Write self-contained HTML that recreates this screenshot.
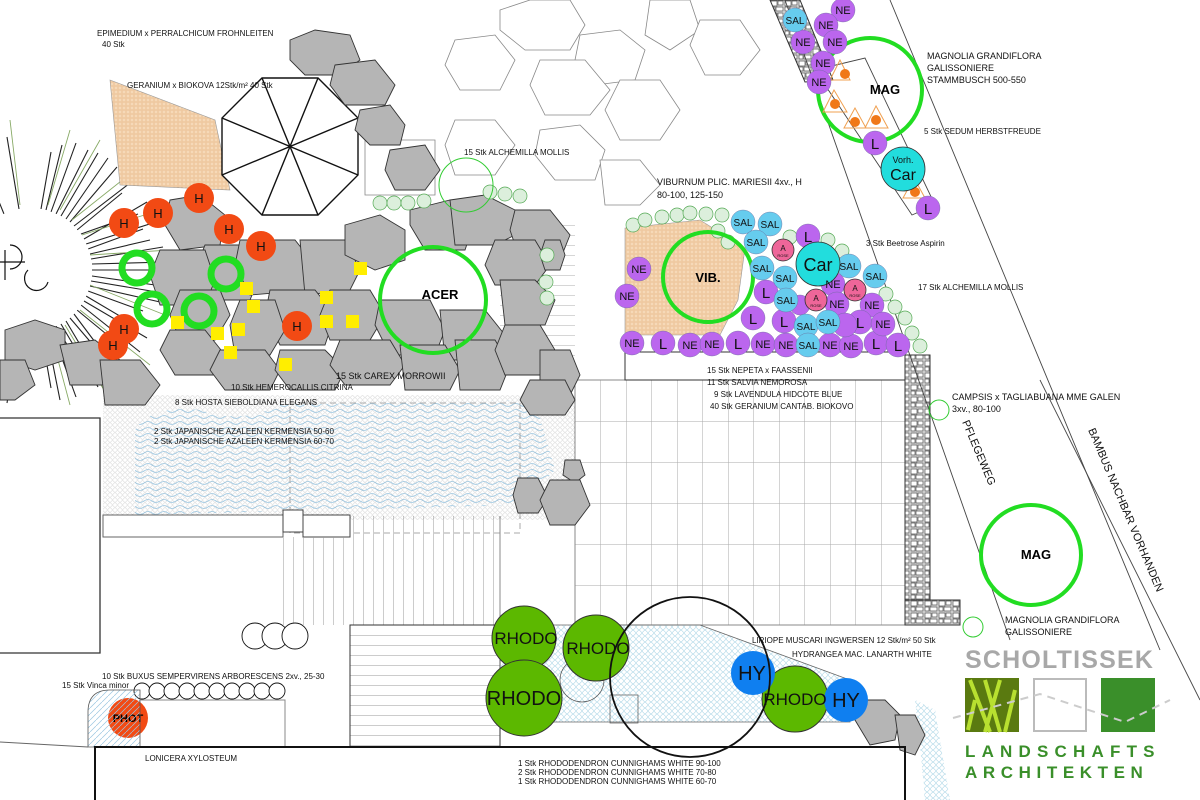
<!DOCTYPE html>
<html><head><meta charset="utf-8"><style>
html,body{margin:0;padding:0;background:#fff;}
svg{display:block;font-family:"Liberation Sans",sans-serif;}
</style></head><body>
<svg width="1200" height="800" viewBox="0 0 1200 800" xmlns="http://www.w3.org/2000/svg">
<defs>
<pattern id="grid" x="575" y="380" width="25.5" height="41" patternUnits="userSpaceOnUse"><path d="M0 0V41M0 0H25.5" stroke="#aaa" stroke-width="1" fill="none"/></pattern>
<pattern id="vb" x="283" y="0" width="10" height="10" patternUnits="userSpaceOnUse"><path d="M0 0V10" stroke="#999" stroke-width="1"/></pattern>
<pattern id="hb" x="0" y="625" width="10" height="10" patternUnits="userSpaceOnUse"><path d="M0 0H10" stroke="#999" stroke-width="1"/></pattern>
<pattern id="wave" width="16" height="6" patternUnits="userSpaceOnUse"><path d="M0 3 Q4 0 8 3 T16 3" stroke="#9cc6e0" stroke-width="0.8" fill="none"/></pattern>
<pattern id="hex" width="6" height="6" patternUnits="userSpaceOnUse"><circle cx="3" cy="3" r="2.4" fill="none" stroke="#a8d4e4" stroke-width="0.6"/></pattern>
<pattern id="dots" width="5" height="5" patternUnits="userSpaceOnUse"><circle cx="2.5" cy="2.5" r="1.8" fill="none" stroke="#ccc" stroke-width="0.5"/></pattern>
<pattern id="hatch" width="4" height="4" patternUnits="userSpaceOnUse"><rect width="4" height="4" fill="#f6d9b8"/><circle cx="2" cy="2" r="1.2" fill="none" stroke="#e0a870" stroke-width="0.5"/></pattern>
<pattern id="diag" width="6" height="6" patternUnits="userSpaceOnUse"><path d="M0 6L6 0" stroke="#9cc6e0" stroke-width="0.7"/></pattern>
<pattern id="cob" width="14" height="12" patternUnits="userSpaceOnUse"><rect width="14" height="12" fill="#ddd"/><path d="M1 1h6v5h-6zM8 1h5v4h-5zM1 7h4v4h-4zM6 7h7v4h-7z" fill="#fff" stroke="#555" stroke-width="0.7"/></pattern>
</defs>

<!-- top loose stones (white) -->
<g fill="#fff" stroke="#888" stroke-width="0.8">
<path d="M500 10l30-10h40l15 25-15 25h-45l-25-20z"/>
<path d="M580 35l40-5 25 20-10 30-40 5-20-25z"/>
<path d="M455 40l40-5 20 25-15 30-40 0-15-25z"/>
<path d="M540 60l45 0 25 30-20 25-45 0-15-30z"/>
<path d="M620 80l40 0 20 30-20 30-40 0-15-30z"/>
<path d="M650 0h40l10 30-30 20-25-15z"/>
<path d="M700 20l40 0 20 30-20 25-35 0-15-30z"/>
<path d="M540 130l40-5 25 25-10 30-40 0-20-25z"/>
<path d="M600 160l40 0 20 25-20 20-35 0z"/>
<path d="M455 120l40 0 20 25-20 30-40 0-10-30z"/>
<path d="M365 140h70v55h-70z"/>
</g>

<!-- left sunburst plant -->
<g stroke="#222" stroke-width="1.1">
<path d="M41 209L51 152M51 212L76 143M61 216L98 153M70 222L117 167M77 230L122 193M84 239L147 202M88 249L143 229M91 259L163 247M92 270L150 270M91 281L163 293M88 291L143 311M84 301L147 338M77 310L122 347M70 318L117 373M61 324L98 387M51 328L76 397M41 331L51 388M19 209L7 137M4 214L-20 155M19 331L7 403"/>
<path d="M46 210L62 145M56 214L88 150M66 219L108 158M74 226L130 183M81 234L138 214M86 244L156 222M90 254L150 240M92 264L168 262M92 276L155 285M90 286L160 302M86 296L135 325M81 305L140 352M74 314L110 362M66 321L110 395M56 326L88 380M46 330L60 400"/>
</g>
<g stroke="#8a6" stroke-width="0.9">
<path d="M48 205L70 130M60 210L100 140M72 220L135 170M82 235L160 210M90 255L170 250M90 285L165 315M80 310L150 365M65 325L110 400M50 330L70 405M20 205L10 120"/>
</g>
<circle cx="30" cy="270" r="62" fill="#fff"/>
<g fill="none" stroke="#111" stroke-width="1.2">
<path d="M10 245a12 12 0 1 1 0 24"/><path d="M28 270a12 12 0 1 0 20 12"/><path d="M0 262h25M5 250v30"/>
</g>

<!-- hatched geranium area -->
<path d="M110 80L215 120L230 190L120 185Z" fill="url(#hatch)" stroke="#999" stroke-width="0.6"/>
<path d="M625 228L700 220L745 248L738 300L720 335L625 335Z" fill="url(#hatch)" stroke="#999" stroke-width="0.6"/>

<!-- umbrella -->
<g fill="none" stroke="#111" stroke-width="1.4">
<path d="M262 78L318 78L358 118L358 175L318 215L262 215L222 175L222 118Z" fill="#fff"/>
<path d="M262 78L318 215M318 78L262 215M222 118L358 175M358 118L222 175"/>
</g>

<!-- water / dotted area -->
<path d="M103 395L575 395L575 520L103 520Z" fill="url(#dots)"/>
<path d="M135 430Q150 405 200 410Q240 425 280 405L535 400L555 470L520 505L135 515Z" fill="url(#wave)"/>
<rect x="290" y="403" width="230" height="130" fill="none" stroke="#aaa" stroke-dasharray="6 4"/>
<rect x="103" y="515" width="180" height="22" fill="#fff" stroke="#666"/>
<rect x="283" y="510" width="20" height="22" fill="#fff" stroke="#444"/>
<rect x="303" y="515" width="47" height="22" fill="#fff" stroke="#444"/>
<!-- left house -->
<path d="M0 418H100V653H0" fill="#fff" stroke="#333" stroke-width="1.3"/>

<!-- vertical deck boards -->
<rect x="283" y="537" width="220" height="88" fill="url(#vb)"/>
<rect x="350" y="516" width="150" height="22" fill="url(#vb)"/>
<rect x="500" y="225" width="75" height="160" fill="url(#hb)" opacity="0.8"/>
<!-- paving grid -->
<rect x="575" y="380" width="330" height="245" fill="url(#grid)" stroke="#888"/>
<path d="M500 516V625M575 385V625" stroke="#888"/>
<!-- bottom stairs -->
<rect x="350" y="625" width="150" height="122" fill="url(#hb)" stroke="#333"/>
<!-- NE label box -->
<rect x="625" y="352" width="280" height="28" fill="#fff" stroke="#333"/>
<!-- cobble strips -->
<rect x="905" y="355" width="25" height="245" fill="url(#cob)" stroke="#333"/>
<rect x="905" y="600" width="55" height="25" fill="url(#cob)" stroke="#333"/>
<path d="M770 0L800 0L833 80L805 82Z" fill="url(#cob)" stroke="#333"/>

<!-- diagonal lines right -->
<g stroke="#444" stroke-width="0.9" fill="none">
<path d="M785 0L1010 640"/><path d="M890 0L1160 650"/><path d="M1040 380L1200 700"/>
<path d="M815 70L865 58L935 205L912 215Z"/>
</g>

<!-- bottom hex area -->
<path d="M555 625L700 625L850 680L850 722L500 722L500 625Z" fill="url(#hex)" stroke="#666" stroke-width="0.8"/>
<rect x="610" y="695" width="28" height="28" fill="none" stroke="#555" stroke-width="0.7"/>
<circle cx="582" cy="680" r="22" fill="none" stroke="#555" stroke-width="0.7"/>
<path d="M920 745L915 700L935 710L950 800H925Z" fill="url(#hex)"/>

<!-- gray stones main -->
<g fill="#b5b5b5" stroke="#333" stroke-width="0.9">
<path d="M290 40l25-10 35 5 10 25-20 15-35 0-15-15z"/>
<path d="M335 65l40-5 20 25-10 20-40 0-15-20z"/>
<path d="M360 110l30-5 15 20-5 20-30 0-15-15z"/>
<path d="M390 150l35-5 15 25-15 20-30 0-10-20z"/>
<path d="M170 200l30-5 25 20-5 30-40 5-15-25z"/>
<path d="M205 245l40 0 15 30-10 25-40 0-15-30z"/>
<path d="M160 250l45 0 10 30-10 25-45 0-10-30z"/>
<path d="M240 240l55 0 20 25-5 25-60 5-15-30z"/>
<path d="M300 240l45 0 15 30-10 20-45 5z"/>
<path d="M345 225l35-10 25 15 0 30-30 10-30-15z"/>
<path d="M410 210l40-10 25 20-10 30-40 0-15-25z"/>
<path d="M450 200l35-5 30 15 0 25-20 10-40 0z"/>
<path d="M515 210l35 0 20 25-10 25-40 0-10-30z"/>
<path d="M495 240l40 0 15 25-15 20-40 0-10-20z"/>
<path d="M500 280l35 0 20 20-10 25-40 0z"/>
<path d="M270 290l45 0 20 25-10 30-45 0-15-30z"/>
<path d="M330 290l40 0 15 25-15 25-40 0-10-25z"/>
<path d="M240 300l35 0 10 30-15 25-35 0-5-30z"/>
<path d="M180 290l40 0 10 25-15 25-35 0-10-25z"/>
<path d="M380 300l50 0 15 30-10 25-45 0-15-30z"/>
<path d="M440 310l45 0 20 25-15 25-45 0z"/>
<path d="M170 330l35 0 20 25-10 20-40 0-15-25z"/>
<path d="M220 350l45 0 15 20-10 20-45 0-15-20z"/>
<path d="M280 350l45 0 20 20-10 20-45 0-15-20z"/>
<path d="M340 340l50 0 15 25-15 20-45 0-15-20z"/>
<path d="M400 345l45 0 15 25-10 20-45 0z"/>
<path d="M455 340l40 0 15 25-10 25-40 0z"/>
<path d="M505 325l35 0 15 25-10 25-40 0-10-25z"/>
<path d="M540 350l30 0 10 25-10 20-30 0z"/>
<path d="M530 380l35 0 10 20-10 15-35 0-10-15z"/>
<path d="M5 330l30-10 30 10 0 30-30 10-30-10z"/>
<path d="M60 345l35-5 25 20-10 25-40 0z"/>
<path d="M100 360l40 0 20 25-15 20-40 0z"/>
<path d="M0 360l25 0 10 25-20 15-15 0z"/>
<path d="M565 460l15 0 5 15-10 8-12-8z"/>
<path d="M518 478l20 0 10 20-10 15-20 0-5-18z"/>
<path d="M550 480l30 0 10 25-15 20-25 0-10-25z"/>
<path d="M545 240l15 0 5 15-5 15-15 0-5-15z"/>
<path d="M860 700l25 0 15 15-5 25-25 5-15-25z"/>
<path d="M895 715l20 0 10 20-10 20-15-5z"/>
</g>

<!-- small green round shrubs -->
<g fill="#dcefdc" stroke="#5a5" stroke-width="0.7">
<circle cx="380" cy="203" r="7"/><circle cx="394" cy="203" r="7"/><circle cx="408" cy="203" r="7"/><circle cx="424" cy="201" r="7"/>
<circle cx="490" cy="192" r="7"/><circle cx="505" cy="194" r="7"/><circle cx="520" cy="196" r="7"/>
<circle cx="547" cy="255" r="7"/><circle cx="546" cy="282" r="7"/><circle cx="547" cy="298" r="7"/>
<circle cx="633" cy="225" r="7"/><circle cx="645" cy="220" r="7"/><circle cx="662" cy="217" r="7"/><circle cx="677" cy="215" r="7"/><circle cx="690" cy="213" r="7"/><circle cx="706" cy="214" r="7"/><circle cx="722" cy="215" r="7"/><circle cx="718" cy="231" r="7"/><circle cx="728" cy="242" r="7"/>
<circle cx="790" cy="237" r="7"/><circle cx="828" cy="240" r="7"/><circle cx="842" cy="251" r="7"/>
<circle cx="886" cy="294" r="7"/><circle cx="895" cy="307" r="7"/><circle cx="905" cy="318" r="7"/><circle cx="912" cy="333" r="7"/><circle cx="920" cy="346" r="7"/>
</g>

<!-- thin green circles -->
<g fill="none" stroke="#3c3" stroke-width="1">
<circle cx="466" cy="185" r="27"/><circle cx="939" cy="410" r="10"/><circle cx="973" cy="627" r="10"/>
</g>
<!-- ACER, VIB, MAG -->
<g fill="none" stroke="#22dd22" stroke-width="4">
<circle cx="433" cy="300" r="53"/><circle cx="708" cy="277" r="45"/><circle cx="870" cy="90" r="52"/><circle cx="1031" cy="555" r="50"/>
</g>
<!-- green rings -->
<g fill="none" stroke="#22dd22" stroke-width="7">
<circle cx="137" cy="268" r="15"/><circle cx="226" cy="274" r="15"/><circle cx="152" cy="309" r="15"/><circle cx="199" cy="311" r="15"/>
</g>
<!-- yellow squares -->
<g fill="#ffee00">
<rect x="354" y="262" width="13" height="13"/><rect x="320" y="291" width="13" height="13"/><rect x="320" y="315" width="13" height="13"/><rect x="346" y="315" width="13" height="13"/>
<rect x="240" y="282" width="13" height="13"/><rect x="247" y="300" width="13" height="13"/><rect x="232" y="323" width="13" height="13"/><rect x="211" y="327" width="13" height="13"/><rect x="224" y="346" width="13" height="13"/><rect x="279" y="358" width="13" height="13"/><rect x="171" y="316" width="13" height="13"/>
</g>
<!-- H circles -->
<g fill="#f24a14">
<circle cx="199" cy="198" r="15"/><circle cx="158" cy="213" r="15"/><circle cx="124" cy="223" r="15"/><circle cx="229" cy="229" r="15"/><circle cx="261" cy="246" r="15"/><circle cx="124" cy="329" r="15"/><circle cx="113" cy="345" r="15"/><circle cx="297" cy="326" r="15"/>
<circle cx="128" cy="718" r="20"/>
</g>
<g font-size="13" text-anchor="middle" fill="#111">
<text x="199" y="203">H</text><text x="158" y="218">H</text><text x="124" y="228">H</text><text x="229" y="234">H</text><text x="261" y="251">H</text><text x="124" y="334">H</text><text x="113" y="350">H</text><text x="297" y="331">H</text>
</g>
<text x="128" y="722" font-size="11" font-weight="bold" text-anchor="middle">PHOT</text>

<text x="708" y="282" font-size="13" font-weight="bold" text-anchor="middle">VIB.</text>
<text x="440" y="299" font-size="13" font-weight="bold" text-anchor="middle">ACER</text>
<text x="885" y="94" font-size="13" font-weight="bold" text-anchor="middle">MAG</text>
<text x="1036" y="559" font-size="13" font-weight="bold" text-anchor="middle">MAG</text>

<!-- sedum triangles -->
<g fill="none" stroke="#f0a050" stroke-width="1">
<path d="M840 60L830 80L850 80Z"/><path d="M834 90L823 112L847 112Z"/><path d="M855 108L844 128L866 128Z"/><path d="M876 106L865 128L888 128Z"/><path d="M914 178L903 198L925 198Z"/>
</g>
<g fill="#f07818"><circle cx="845" cy="74" r="5"/><circle cx="835" cy="104" r="5"/><circle cx="855" cy="122" r="5"/><circle cx="876" cy="120" r="5"/><circle cx="915" cy="192" r="5"/></g>

<!-- perennial circles -->
<g stroke="#6a6a9a" stroke-width="0.4">
<g fill="#bb66ee">
<circle cx="843" cy="10" r="12"/><circle cx="826" cy="25" r="12"/><circle cx="803" cy="42" r="12"/><circle cx="835" cy="42" r="12"/><circle cx="823" cy="63" r="12"/><circle cx="819" cy="82" r="12"/>
<circle cx="875" cy="143" r="12"/><circle cx="928" cy="208" r="12"/>
<circle cx="639" cy="269" r="12"/><circle cx="627" cy="296" r="12"/><circle cx="632" cy="343" r="12"/><circle cx="663" cy="343" r="12"/><circle cx="690" cy="345" r="12"/><circle cx="712" cy="344" r="12"/><circle cx="738" cy="343" r="12"/><circle cx="763" cy="344" r="12"/><circle cx="786" cy="345" r="12"/><circle cx="830" cy="345" r="12"/><circle cx="851" cy="346" r="12"/><circle cx="876" cy="343" r="12"/><circle cx="898" cy="345" r="12"/>
<circle cx="808" cy="236" r="12"/><circle cx="766" cy="292" r="12"/><circle cx="753" cy="318" r="12"/><circle cx="784" cy="321" r="12"/><circle cx="833" cy="284" r="12"/><circle cx="837" cy="304" r="12"/><circle cx="872" cy="305" r="12"/><circle cx="860" cy="322" r="12"/><circle cx="883" cy="324" r="12"/><circle cx="800" cy="305" r="10"/><circle cx="845" cy="325" r="12"/>
</g>
<g fill="#66ccee">
<circle cx="795" cy="20" r="12"/>
<circle cx="743" cy="222" r="12"/><circle cx="770" cy="224" r="12"/><circle cx="756" cy="242" r="12"/><circle cx="762" cy="268" r="12"/><circle cx="785" cy="278" r="12"/><circle cx="786" cy="300" r="12"/><circle cx="849" cy="266" r="12"/><circle cx="875" cy="276" r="12"/><circle cx="806" cy="326" r="12"/><circle cx="828" cy="322" r="12"/><circle cx="808" cy="345" r="12"/>
</g>
<g fill="#ee6699" stroke="#333" stroke-width="0.8"><circle cx="783" cy="250" r="11"/><circle cx="816" cy="300" r="11"/><circle cx="855" cy="290" r="11"/></g>
<g fill="#22dddd" stroke="#333" stroke-width="0.8"><circle cx="818" cy="264" r="22"/><circle cx="903" cy="169" r="22"/></g>
</g>
<g font-size="11" text-anchor="middle" fill="#111">
<g><text x="843" y="14">NE</text><text x="826" y="29">NE</text><text x="803" y="46">NE</text><text x="835" y="46">NE</text><text x="823" y="67">NE</text><text x="819" y="86">NE</text>
<text x="639" y="273">NE</text><text x="627" y="300">NE</text><text x="632" y="347">NE</text><text x="690" y="349">NE</text><text x="712" y="348">NE</text><text x="763" y="348">NE</text><text x="786" y="349">NE</text><text x="830" y="349">NE</text><text x="851" y="350">NE</text><text x="833" y="288">NE</text><text x="837" y="308">NE</text><text x="872" y="309">NE</text><text x="883" y="328">NE</text></g>
<g font-size="10"><text x="795" y="24">SAL</text><text x="743" y="226">SAL</text><text x="770" y="228">SAL</text><text x="756" y="246">SAL</text><text x="762" y="272">SAL</text><text x="785" y="282">SAL</text><text x="786" y="304">SAL</text><text x="849" y="270">SAL</text><text x="875" y="280">SAL</text><text x="806" y="330">SAL</text><text x="828" y="326">SAL</text><text x="808" y="349">SAL</text></g>
<g font-size="15"><text x="875" y="149">L</text><text x="928" y="214">L</text><text x="663" y="349">L</text><text x="738" y="349">L</text><text x="876" y="349">L</text><text x="898" y="351">L</text><text x="808" y="242">L</text><text x="766" y="298">L</text><text x="753" y="324">L</text><text x="784" y="327">L</text><text x="860" y="328">L</text></g>
<g font-size="8"><text x="783" y="251">A</text><text x="816" y="301">A</text><text x="855" y="291">A</text></g>
<g font-size="4"><text x="783" y="257">ROSE</text><text x="816" y="307">ROSE</text><text x="855" y="297">ROSE</text></g>
<text x="818" y="271" font-size="18">Car</text>
<text x="903" y="163" font-size="9">Vorh.</text><text x="903" y="180" font-size="16">Car</text>
</g>

<!-- bottom RHODO / HY -->
<g fill="#5cb800" stroke="#333" stroke-width="1">
<circle cx="524" cy="638" r="32"/><circle cx="596" cy="648" r="33"/><circle cx="524" cy="698" r="38"/><circle cx="795" cy="699" r="33"/>
</g>
<g fill="#0f7ff0"><circle cx="753" cy="673" r="22"/><circle cx="846" cy="700" r="22"/></g>
<circle cx="690" cy="677" r="80" fill="none" stroke="#111" stroke-width="1.8"/>
<g font-size="17" text-anchor="middle" fill="#111">
<text x="526" y="644">RHODO</text><text x="598" y="654">RHODO</text><text x="524" y="705" font-size="20">RHODO</text><text x="795" y="705">RHODO</text>
<text x="752" y="680" font-size="20">HY</text><text x="846" y="707" font-size="20">HY</text>
</g>

<!-- buxus -->
<g fill="#fff" stroke="#111" stroke-width="0.9">
<circle cx="255" cy="636" r="13"/><circle cx="275" cy="636" r="13"/><circle cx="295" cy="636" r="13"/>
<circle cx="142" cy="691" r="8"/><circle cx="157" cy="691" r="8"/><circle cx="172" cy="691" r="8"/><circle cx="187" cy="691" r="8"/><circle cx="202" cy="691" r="8"/><circle cx="217" cy="691" r="8"/><circle cx="232" cy="691" r="8"/><circle cx="247" cy="691" r="8"/><circle cx="262" cy="691" r="8"/><circle cx="277" cy="691" r="8"/>
</g>
<path d="M88 747V712Q88 690 110 690H140V747Z" fill="url(#diag)" stroke="#555" stroke-width="0.8"/>
<path d="M140 700H285V747" fill="none" stroke="#888"/>
<path d="M0 742L88 747" stroke="#666"/>
<path d="M95 800V747H905V800" fill="none" stroke="#111" stroke-width="2"/>

<!-- labels -->
<g font-size="8" fill="#111">
<text x="97" y="36">EPIMEDIUM x PERRALCHICUM FROHNLEITEN</text><text x="102" y="47">40 Stk</text>
<text x="127" y="88">GERANIUM x BIOKOVA   12Stk/m²  40 Stk</text>
<text x="464" y="155">15 Stk  ALCHEMILLA MOLLIS</text>
<text x="657" y="185" font-size="9">VIBURNUM PLIC. MARIESII 4xv., H</text><text x="657" y="198" font-size="9">80-100, 125-150</text>
<text x="927" y="59" font-size="9">MAGNOLIA GRANDIFLORA</text><text x="927" y="71" font-size="9">GALISSONIERE</text><text x="927" y="83" font-size="9">STAMMBUSCH 500-550</text>
<text x="924" y="134">5 Stk SEDUM HERBSTFREUDE</text>
<text x="866" y="246">3 Stk Beetrose Aspirin</text>
<text x="918" y="290">17 Stk  ALCHEMILLA MOLLIS</text>
<text x="707" y="373">15 Stk   NEPETA x FAASSENII</text>
<text x="707" y="385">11 Stk  SALVIA NEMOROSA</text>
<text x="714" y="397">9 Stk LAVENDULA HIDCOTE BLUE</text>
<text x="710" y="409">40 Stk GERANIUM CANTAB. BIOKOVO</text>
<text x="952" y="400" font-size="9">CAMPSIS x TAGLIABUANA MME GALEN</text><text x="952" y="412" font-size="9">3xv.,  80-100</text>
<text x="336" y="379" font-size="9">15 Stk CAREX MORROWII</text>
<text x="231" y="390">10 Stk HEMEROCALLIS CITRINA</text>
<text x="175" y="405">8 Stk HOSTA SIEBOLDIANA ELEGANS</text>
<text x="154" y="434">2 Stk  JAPANISCHE AZALEEN KERMENSIA  50-60</text>
<text x="154" y="444">2 Stk  JAPANISCHE AZALEEN KERMENSIA  60-70</text>
<text x="1005" y="623" font-size="9">MAGNOLIA GRANDIFLORA</text><text x="1005" y="635" font-size="9">GALISSONIERE</text>
<text x="752" y="643">LIRIOPE MUSCARI INGWERSEN 12 Stk/m² 50 Stk</text>
<text x="792" y="657">HYDRANGEA MAC. LANARTH WHITE</text>
<text x="102" y="679">10 Stk BUXUS SEMPERVIRENS ARBORESCENS 2xv., 25-30</text>
<text x="62" y="688">15 Stk Vinca minor</text>
<text x="145" y="761">LONICERA XYLOSTEUM</text>
<text x="518" y="766">1 Stk  RHODODENDRON CUNNIGHAMS WHITE 90-100</text>
<text x="518" y="775">2 Stk  RHODODENDRON CUNNIGHAMS WHITE 70-80</text>
<text x="518" y="784">1 Stk  RHODODENDRON CUNNIGHAMS WHITE 60-70</text>
</g>
<text transform="translate(962,422) rotate(67)" font-size="11" fill="#111">PFLEGEWEG</text>
<text transform="translate(1088,430) rotate(67)" font-size="11" fill="#111">BAMBUS NACHBAR VORHANDEN</text>

<!-- logo -->
<text x="965" y="668" font-size="25" font-weight="bold" fill="#a8a8a8" letter-spacing="1.2">SCHOLTISSEK</text>
<rect x="965" y="678" width="54" height="54" fill="#5a7a10"/>
<g stroke="#b8e030" stroke-width="4"><path d="M970 680L990 732M985 680L1000 732M1000 680L985 732M1015 690L1005 732M975 700L968 730"/></g>
<rect x="1034" y="679" width="52" height="52" fill="#fff" stroke="#bbb" stroke-width="2"/>
<rect x="1101" y="678" width="54" height="54" fill="#3a8f2a"/>
<path d="M953 718L1040 694L1125 722L1170 700" fill="none" stroke="#ccc" stroke-width="2" stroke-dasharray="8 6"/>
<text x="965" y="757" font-size="17" font-weight="bold" fill="#3a8f2a" letter-spacing="6.2">LANDSCHAFTS</text>
<text x="965" y="778" font-size="17" font-weight="bold" fill="#3a8f2a" letter-spacing="5.6">ARCHITEKTEN</text>
</svg>
</body></html>
